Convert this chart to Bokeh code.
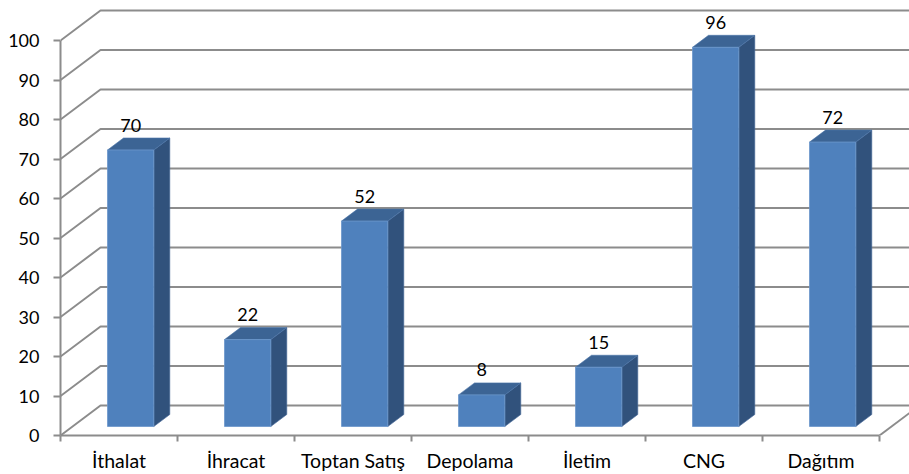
from bokeh.plotting import figure
from bokeh.models import FixedTicker, Range1d
from bokeh.core.properties import value
from bokeh.embed import file_html
from bokeh.resources import INLINE

categories = ["İthalat", "İhracat", "Toptan Satış", "Depolama", "İletim", "CNG", "Dağıtım"]
values = [70, 22, 52, 8, 15, 96, 72]
y_ticks = [0, 10, 20, 30, 40, 50, 60, 70, 80, 90, 100]

PX_X = 117.0   # pixels per category
PX_Y = 3.95    # pixels per unit
FRAME_W, FRAME_H = 849, 435
FONT = "Lato"
FS = "18px"
FS_CAT = "19.5px"
GRID = "#8c8c8c"
FRONT, TOP, SIDE = "#4f81bd", "#3c6494", "#31527c"


def dx(px):
    return px / PX_X


def dy(px):
    return px / PX_Y


p = figure(width=909, height=474,
           x_range=Range1d(0, FRAME_W / PX_X), y_range=Range1d(0, FRAME_H / PX_Y),
           output_backend="svg", toolbar_location=None,
           min_border_left=60, min_border_right=0, min_border_top=0, min_border_bottom=39)
p.grid.visible = False
p.outline_line_color = None

# perspective wall and floor lines
wall_x = [[0, dx(40), FRAME_W / PX_X + 0.1] for _ in y_ticks]
wall_y = [[t, t + dy(30), t + dy(30)] for t in y_ticks]
p.multi_line(wall_x, wall_y, line_color=GRID, line_width=2)
floor_end = 7 + dx(40)
p.line([7, floor_end], [0, dy(30)], line_color=GRID, line_width=2)

# 3-D bars
gap = dx(47)
width = dx(46.3)
base = dy(9)
dep_x, dep_y = dx(16), dy(12)
lefts = [i + gap for i in range(len(values))]
rights = [l + width for l in lefts]
tops = [v + base for v in values]

p.patches([[r, r + dep_x, r + dep_x, r] for r in rights],
          [[base, base + dep_y, t + dep_y, t] for t in tops],
          fill_color=SIDE, line_color="#4a6c9c", line_width=0.6)
p.patches([[l, r, r + dep_x, l + dep_x] for l, r in zip(lefts, rights)],
          [[t, t, t + dep_y, t + dep_y] for t in tops],
          fill_color=TOP, line_color="#4a74a8", line_width=0.6)
p.quad(left=lefts, right=rights, bottom=base, top=tops,
       fill_color=FRONT, line_color="#6c97cc", line_width=0.8)

p.text(x=[l + width / 2 for l in lefts], y=tops, text=[str(v) for v in values],
       text_font=value(FONT), text_font_size=FS, text_color="#000000",
       text_align="center", text_baseline="middle", y_offset=-25)

# axes
yaxis = p.yaxis[0]
yaxis.ticker = FixedTicker(ticks=y_ticks)
yaxis.bounds = (0, 100)
yaxis.axis_line_color = GRID
yaxis.axis_line_width = 2
yaxis.major_tick_line_color = GRID
yaxis.major_tick_line_width = 2
yaxis.major_tick_out = 7
yaxis.major_tick_in = 0
yaxis.minor_tick_line_color = None
yaxis.major_label_standoff = 14
yaxis.major_label_text_font = FONT
yaxis.major_label_text_font_size = FS
yaxis.major_label_text_color = "#000000"

xaxis = p.xaxis[0]
centers = [i + 0.5 for i in range(len(categories))]
xaxis.ticker = FixedTicker(ticks=centers, minor_ticks=list(range(len(categories) + 1)))
xaxis.major_label_overrides = {c: n for c, n in zip(centers, categories)}
xaxis.bounds = (0, 7)
xaxis.axis_line_color = GRID
xaxis.axis_line_width = 2
xaxis.major_tick_line_color = None
xaxis.major_tick_out = 0
xaxis.major_tick_in = 0
xaxis.minor_tick_line_color = GRID
xaxis.minor_tick_line_width = 2
xaxis.minor_tick_out = 6
xaxis.minor_tick_in = 0
xaxis.major_label_standoff = 7
xaxis.major_label_text_font = FONT
xaxis.major_label_text_font_size = FS_CAT
xaxis.major_label_text_color = "#000000"

open("out.html", "w").write(file_html(p, INLINE))
